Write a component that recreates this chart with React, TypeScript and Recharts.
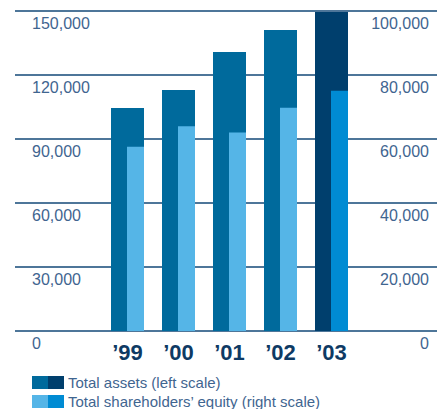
import React from 'react';
import { BarChart, Bar, XAxis, YAxis, CartesianGrid, Cell, Legend } from 'recharts';

const years = ['’99', '’00', '’01', '’02', '’03'];
const totalAssets = [104500, 113000, 130800, 141100, 149500];
const shareholdersEquity = [57600, 64000, 62000, 69800, 75100];
const leftTicks = [0, 30000, 60000, 90000, 120000, 150000];
const rightTicks = [0, 20000, 40000, 60000, 80000, 100000];

const assetColors = ['#006a9c', '#006a9c', '#006a9c', '#006a9c', '#003f6d'];
const equityColors = ['#55b5e7', '#55b5e7', '#55b5e7', '#55b5e7', '#008bd3'];

const legendItems = [
  { label: 'Total assets (left scale)', colors: ['#006a9c', '#003f6d'] },
  { label: 'Total shareholders’ equity (right scale)', colors: ['#55b5e7', '#008bd3'] },
];

const data = years.map((year, i) => ({
  year,
  assets: totalAssets[i],
  equity: shareholdersEquity[i],
}));

const FONT = '"Liberation Sans", Arial, Helvetica, sans-serif';
const TEXT = '#3f6590';

const fmt = (v: number) => v.toLocaleString('en-US');

const LeftTick = ({ y, payload }: any) => (
  <text x={32} y={y + 18} fill={TEXT} fontSize={16} fontFamily={FONT} textAnchor="start">
    {fmt(payload.value)}
  </text>
);

const RightTick = ({ y, payload }: any) => (
  <text x={429} y={y + 18} fill={TEXT} fontSize={16} fontFamily={FONT} textAnchor="end">
    {fmt(payload.value)}
  </text>
);

const YearTick = ({ x, payload }: any) => (
  <text x={x} y={360} fill="#0e3a64" fontSize={22} fontWeight="bold" fontFamily={FONT} textAnchor="middle">
    {payload.value}
  </text>
);

const LegendBox = () => (
  <div style={{ fontFamily: FONT, fontSize: 15, color: TEXT, lineHeight: '19px' }}>
    {legendItems.map(item => (
      <div key={item.label} style={{ display: 'flex', alignItems: 'center', height: 19 }}>
        {item.colors.map(c => (
          <span key={c} style={{ display: 'inline-block', width: 16, height: 13, background: c }} />
        ))}
        <span style={{ marginLeft: 4 }}>{item.label}</span>
      </div>
    ))}
  </div>
);

export default function App() {
  return (
    <div style={{ position: 'absolute', left: 0, top: 0, width: 437, height: 409, background: '#fff' }}>
      <BarChart
        width={437}
        height={409}
        data={data}
        margin={{ top: 11, right: -1, bottom: 77, left: 14 }}
        barGap={-17}
      >
        <CartesianGrid yAxisId="left" horizontal vertical={false} stroke="#4e7699" strokeWidth={2} />
        <XAxis
          dataKey="year"
          axisLine={false}
          tickLine={false}
          padding={{ left: 87, right: 80 }}
          tick={YearTick}
          interval={0}
          height={1}
        />
        <YAxis
          yAxisId="left"
          orientation="left"
          width={1}
          domain={[0, 150000]}
          ticks={leftTicks}
          interval={0}
          allowDataOverflow
          axisLine={false}
          tickLine={false}
          tick={LeftTick}
        />
        <YAxis
          yAxisId="right"
          orientation="right"
          width={1}
          domain={[0, 100000]}
          ticks={rightTicks}
          interval={0}
          allowDataOverflow
          axisLine={false}
          tickLine={false}
          tick={RightTick}
        />
        <Bar yAxisId="left" dataKey="assets" barSize={33} isAnimationActive={false}>
          {data.map((d, i) => <Cell key={d.year} fill={assetColors[i]} />)}
        </Bar>
        <Bar yAxisId="right" dataKey="equity" barSize={17} isAnimationActive={false}>
          {data.map((d, i) => <Cell key={d.year} fill={equityColors[i]} />)}
        </Bar>
        <Legend
          layout="vertical"
          align="center"
          verticalAlign="middle"
          content={<LegendBox />}
          wrapperStyle={{ top: 373, left: 32, width: 'auto' }}
        />
      </BarChart>
    </div>
  );
}
